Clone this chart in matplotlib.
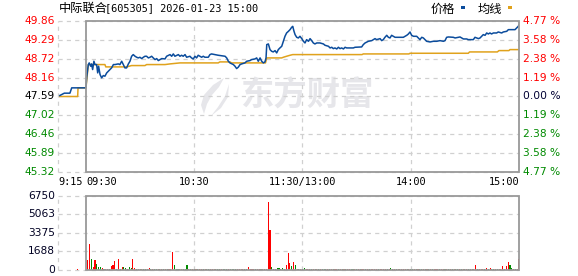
import matplotlib
matplotlib.use('Agg')
import matplotlib.pyplot as plt
from matplotlib.transforms import blended_transform_factory
from matplotlib.patches import Rectangle, Polygon

plt.rcParams['font.family'] = ['DejaVu Sans', 'Noto Sans CJK SC']
plt.rcParams['lines.scale_dashes'] = False

# ---- data ----
pre_close = 47.59
price_ticks = [49.86, 49.29, 48.72, 48.16, 47.59, 47.02, 46.46, 45.89, 45.32]
price_labels = ['49.86', '49.29', '48.72', '48.16', '47.59', '47.02', '46.46', '45.89', '45.32']
pct_labels = ['4.77 %', '3.58 %', '2.38 %', '1.19 %', '0.00 %', '1.19 %', '2.38 %', '3.58 %', '4.77 %']
vol_ticks = [6750, 5063, 3375, 1688, 0]
time_ticks = [-15.5, 0, 60, 120, 180, 240]
time_labels = ['9:15', '09:30', '10:30', '11:30/13:00', '14:00', '15:00']

# minutes after 09:30 (lunch break removed), negative = call auction
times = [-14.5, -12.0, -8.9, -7.9, 0.0,
         0.4, 1.3, 1.8, 2.6, 3.1, 3.7, 4.4, 5.0, 5.9, 6.5, 7.0, 7.8, 8.7, 9.6, 10.5, 11.5, 12.4, 13.3, 14.2, 15.2,
         16.1, 17.9, 18.8, 19.8, 20.7, 21.6, 22.5, 23.5, 24.4, 25.3, 26.2, 27.2, 28.1, 29.0, 29.9, 30.9, 31.8,
         32.7, 33.6, 34.6, 35.5, 36.4, 37.3, 38.3, 39.2, 40.1, 41.0, 42.0, 43.8,
         44.7, 46.6, 47.5, 48.4, 49.3, 51.2, 52.1, 53.0, 53.9, 54.9, 55.8, 57.6, 58.5, 59.5, 60.4, 61.3, 62.2,
         63.2, 64.1, 65.0, 65.9, 67.8, 68.7, 69.6, 71.5, 73.3, 77.1, 78.0, 78.9, 79.8, 81.7, 82.6, 83.5, 84.4,
         85.4, 86.3, 88.1, 89.1, 90.9, 91.8, 93.7, 94.6, 95.5, 96.5, 97.4, 98.3, 99.2, 99.8,
         100.2, 101.1, 102.0, 102.9, 103.8, 104.8, 105.7, 106.6, 107.5, 108.5, 109.4, 110.3, 111.2, 112.2,
         113.1, 114.0, 114.6, 115.3, 115.9, 116.8, 117.7, 118.6, 119.6, 120.5, 121.4, 122.3, 123.3, 124.2,
         125.1, 126.0, 126.9, 127.9, 129.7, 131.6, 132.5, 134.4, 135.3, 136.2, 137.1, 138.0, 139.0, 139.9,
         140.8, 141.7, 142.7, 143.6, 144.5, 148.2, 149.1, 152.8, 153.7, 154.7, 156.5, 158.4, 160.2,
         161.1, 163.0, 163.9, 164.8, 165.7, 166.7, 167.6, 168.5, 169.4, 170.4, 171.3, 175.9, 177.8, 178.7,
         179.6, 180.5, 181.5, 183.3, 184.2, 185.1, 186.1, 187.0, 187.9, 188.8, 190.7, 192.5, 194.4, 196.2, 198.1,
         199.0, 199.9, 200.9, 203.6, 204.6, 206.4, 207.3, 208.2, 209.2, 211.0, 211.9, 214.7, 215.6, 216.5,
         217.5, 218.4, 219.3, 220.2, 221.2, 222.1, 223.0, 223.9, 224.8, 225.8, 227.6, 228.5, 230.4, 231.3,
         233.2, 234.1, 237.8, 238.7, 239.6, 240.0]
prices = [47.62, 47.69, 47.69, 47.85, 47.85,
          48.17, 48.55, 48.60, 48.50, 48.57, 48.40, 48.65, 48.55, 48.55, 48.30, 48.50, 48.25, 48.15, 48.22,
          48.20, 48.30, 48.35, 48.40, 48.45, 48.55, 48.55, 48.57, 48.55, 48.65, 48.55, 48.45, 48.45, 48.57,
          48.65, 48.80, 48.85, 48.80, 48.77, 48.75, 48.77, 48.73, 48.77, 48.80, 48.80, 48.75, 48.77, 48.80,
          48.75, 48.70, 48.73, 48.67, 48.70, 48.73, 48.72,
          48.80, 48.85, 48.80, 48.87, 48.80, 48.85, 48.80, 48.83, 48.80, 48.85, 48.77, 48.80, 48.75, 48.72,
          48.80, 48.75, 48.83, 48.80, 48.77, 48.80, 48.77, 48.77, 48.85, 48.87, 48.85, 48.83, 48.80, 48.75,
          48.65, 48.60, 48.55, 48.50, 48.43, 48.47, 48.55, 48.57, 48.60, 48.65, 48.67, 48.70, 48.72, 48.75,
          48.65, 48.75, 48.65, 48.60, 48.63, 48.75,
          49.15, 49.17, 49.00, 48.95, 48.93, 48.97, 48.90, 49.00, 49.05, 49.10, 49.25, 49.40, 49.50, 49.55,
          49.60, 49.67, 49.70, 49.55, 49.45, 49.37, 49.35, 49.40, 49.33, 49.25, 49.20, 49.30, 49.25, 49.33,
          49.27, 49.20, 49.17, 49.20, 49.20, 49.17, 49.13, 49.10, 49.05, 49.07, 49.03, 49.05, 49.02, 49.07,
          49.03, 49.05, 49.02, 49.07, 49.05, 49.05, 49.07, 49.08, 49.15, 49.20, 49.25, 49.27, 49.33,
          49.30, 49.33, 49.27, 49.30, 49.37, 49.43, 49.37, 49.35, 49.43, 49.40, 49.37, 49.37, 49.43, 49.47,
          49.53, 49.43, 49.40, 49.40, 49.35, 49.30, 49.37, 49.35, 49.30, 49.25, 49.23, 49.25, 49.25, 49.27, 49.25,
          49.27, 49.37, 49.38, 49.37, 49.35, 49.37, 49.38, 49.35, 49.32, 49.32, 49.30, 49.30, 49.37, 49.35,
          49.33, 49.35, 49.40, 49.45, 49.43, 49.50, 49.47, 49.50, 49.47, 49.50, 49.50, 49.53, 49.50, 49.53,
          49.55, 49.60, 49.60, 49.65, 49.70, 49.74]

avg_times = [-14.5, -4.6, -4.4, 0.0, 1.3, 10.5, 11.0, 22.5, 25.3, 32.7, 33.6, 43.8, 46.6, 52.1, 73.3, 74.2,
             79.8, 80.7, 99.5, 100.2, 108.5, 109.4, 111.2, 113.1, 114.6, 153.0, 153.7, 179.0, 179.6, 211.9,
             212.6, 228.0, 228.9, 234.4, 235.0, 240.0]
avg_prices = [47.59, 47.59, 47.85, 47.85, 48.55, 48.55, 48.48, 48.48, 48.52, 48.52, 48.55, 48.55, 48.57,
              48.60, 48.60, 48.63, 48.63, 48.60, 48.60, 48.75, 48.75, 48.77, 48.80, 48.83, 48.85, 48.85,
              48.87, 48.87, 48.89, 48.89, 48.93, 48.93, 48.97, 48.97, 49.00, 49.00]

# volume per minute 09:30..15:00 (241 bars), r = up, g = down
volumes = [0, 910, 2370, 1000, 300, 910, 550, 250, 250, 180, 120, 100, 100, 100, 360, 490, 820, 120, 1000, 120,
           250, 250, 180, 120, 250, 180, 1000, 180, 100, 100, 90, 90, 100, 90, 90, 180, 90, 90, 100, 90,
           90, 100, 90, 90, 120, 90, 90, 100, 1640, 460, 90, 100, 90, 90, 90, 100, 460, 90, 90, 90,
           90, 90, 100, 90, 90, 90, 90, 100, 90, 120, 90, 90, 90, 90, 90, 90, 100, 90, 120, 90,
           120, 90, 100, 120, 90, 90, 100, 90, 90, 90, 240, 90, 90, 90, 90, 100, 90, 90, 90, 120,
           120, 6200, 3650, 270, 90, 100, 180, 180, 90, 180, 90, 460, 1580, 600, 365, 760, 456, 90, 90, 90,
           90, 180, 90, 90, 90, 90, 90, 90, 90, 90, 100, 90, 90, 90, 90, 90, 90, 90, 90, 90,
           90, 90, 90, 100, 90, 90, 90, 90, 90, 90, 90, 100, 90, 90, 90, 90, 90, 90, 90, 90,
           90, 90, 90, 90, 90, 90, 90, 90, 90, 180, 90, 90, 90, 90, 90, 90, 90, 90, 90, 90,
           90, 90, 90, 90, 90, 90, 90, 90, 90, 90, 90, 90, 90, 90, 90, 90, 90, 90, 90, 90,
           90, 90, 90, 90, 90, 90, 90, 90, 90, 90, 90, 90, 90, 90, 90, 90, 456, 90, 90, 90,
           90, 90, 180, 90, 180, 90, 90, 90, 90, 90, 90, 400, 90, 330, 760, 456, 180, 90, 90, 90, 1000]
vol_dirs = ("rrrgrrgggrgrrgrrrgrg" "rggrggrrgrgrggrrgrgg" "rgrgrgrrrgggrrgggrgr"
            "grgrrgrggrrrgggrgggr" "ggggrrrrggrrrrgrrgrg" "rrrggggggggrrrgrgrgr"
            "ggrrrgrgrgrgggrgrgrr" "grgrgrrggrgrgrrgrgrr" "rrgrrrrgrggrgrgrrrgr"
            "ggrgrggrgrgrgrrrgrrg" "rgrgrggrgrgrgrgrrgrr" "rgrgrggrgrrrrrrggrgrr")
pre_vol_times = [-4.5]
pre_vols = [100]

RED, GREEN, BLACK = '#ff0000', '#008a00', '#000000'
GRID = '#d0d0d0'

W, H = 578, 276
fig = plt.figure(figsize=(W / 100, H / 100), dpi=100)


def px(l, t, r, b):
    return [l / W, 1 - b / H, (r - l) / W, (b - t) / H]


ax = fig.add_axes(px(58, 21, 519, 172))
axv = fig.add_axes(px(58, 196, 519, 270))

for a, lo, hi, ticks in [(ax, 45.32, 49.86, price_ticks), (axv, 0, 6750, vol_ticks)]:
    a.set_xlim(-15.5, 240)
    a.set_ylim(lo, hi)
    a.set_xticks([])
    a.set_yticks([])
    for s in a.spines.values():
        s.set_visible(False)
    for y in ticks:
        a.axhline(y, color=GRID, lw=0.9, ls=(0, (3, 3)), clip_on=False, zorder=1)
    for x in time_ticks[:1] + time_ticks[2:5]:
        a.axvline(x, color=GRID, lw=0.9, ls=(0, (3, 3)), clip_on=False, zorder=1)
    a.add_patch(Rectangle((0, lo), 240, hi - lo, fill=False, ec='#999999', lw=1.3,
                          clip_on=False, zorder=4))

# watermark
wm = '#e6e6ea'
ax.text(240 / W, 1 - 96 / H, '东方财富', transform=fig.transFigure, fontsize=24, fontweight='bold',
        color=wm, family=['Noto Sans CJK SC'], ha='left', va='center', zorder=0.5)
logo1 = [(224, 78), (213, 85), (204, 95), (201, 105), (204, 114), (207, 104), (212, 95), (219, 87)]
logo2 = [(229, 84), (225, 96), (218, 107), (211, 116), (221, 108), (228, 97)]
for pts in (logo1, logo2):
    ax.add_artist(Polygon([(x / W, 1 - y / H) for x, y in pts], closed=True, fc=wm, ec='none',
                          transform=fig.transFigure, zorder=0.5))

# lines
ax.plot(avg_times, avg_prices, color='#e0a21c', lw=1.1, zorder=3)
ax.plot(times, prices, color='#0b4c9c', lw=1.1, zorder=3)

# volume bars
bar_colors = [RED if d == 'r' else GREEN for d in vol_dirs]
axv.bar(range(len(volumes)), volumes, width=0.6, color=bar_colors, lw=0, zorder=3)
axv.bar(pre_vol_times, pre_vols, width=0.6, color=RED, lw=0, zorder=3)

# axis labels
tr_l = blended_transform_factory(fig.transFigure, ax.transData)
for y, lab, pl in zip(price_ticks, price_labels, pct_labels):
    c = RED if y > pre_close + 0.01 else (GREEN if y < pre_close - 0.01 else BLACK)
    ax.text(55 / W, y, lab, transform=tr_l, ha='right', va='center', fontsize=7.7, color=c)
    ax.text(523 / W, y, pl, transform=tr_l, ha='left', va='center', fontsize=7.7,
            color=c if c != BLACK else '#000033')

tr_v = blended_transform_factory(fig.transFigure, axv.transData)
for y in vol_ticks:
    axv.text(55 / W, y, str(y), transform=tr_v, ha='right', va='center', fontsize=7.7, color='#000022')

tr_t = blended_transform_factory(ax.transData, fig.transFigure)
aligns = ['left', 'left', 'center', 'center', 'center', 'right']
for x, lab, al in zip(time_ticks, time_labels, aligns):
    xx = x + 0.3 if al == 'right' else x
    ax.text(xx, 1 - 182 / H, lab, transform=tr_t, ha=al, va='center', fontsize=7.4,
            family=['DejaVu Sans Mono'], color=BLACK)

# title and legend
fig.text(59 / W, 1 - 8 / H, '中际联合', family=['Noto Sans CJK SC'], fontsize=8.8, va='center', ha='left')
fig.text(105 / W, 1 - 8 / H, '[605305] 2026-01-23 15:00', family=['DejaVu Sans Mono'], fontsize=7.4,
         va='center', ha='left')
fig.text(431 / W, 1 - 9 / H, '价格', family=['Noto Sans CJK SC'], fontsize=8.8, va='center', ha='left')
fig.text(478 / W, 1 - 9 / H, '均线', family=['Noto Sans CJK SC'], fontsize=8.8, va='center', ha='left')
fig.add_artist(Rectangle((461 / W, 1 - 9 / H), 4 / W, 3 / H, fc='#0b4c9c', ec='none', transform=fig.transFigure))
fig.add_artist(Rectangle((508 / W, 1 - 9 / H), 4 / W, 3 / H, fc='#e0a21c', ec='none', transform=fig.transFigure))

fig.savefig('out.png', dpi=100, facecolor='white')
